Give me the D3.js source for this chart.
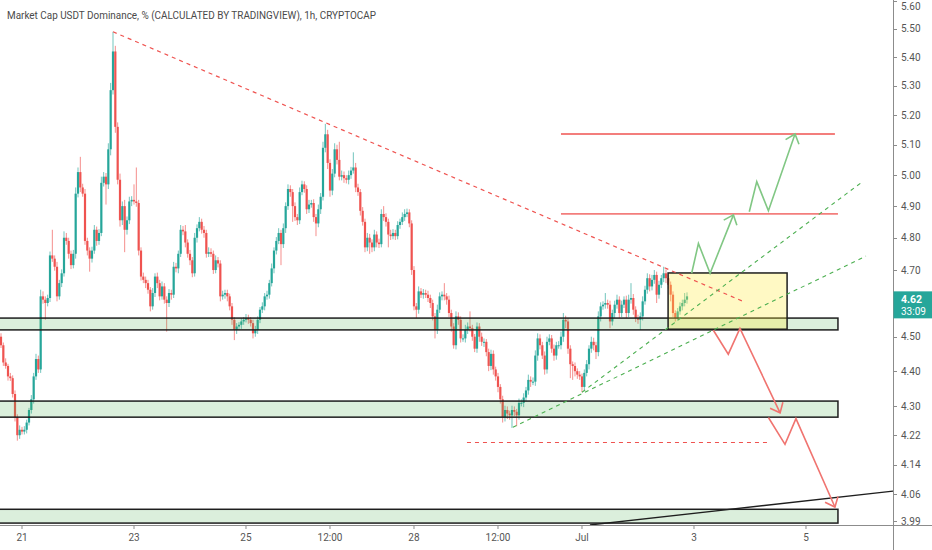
<!DOCTYPE html>
<html>
<head>
<meta charset="utf-8">
<script src="https://cdn.jsdelivr.net/npm/d3@7"></script>
<style>
  body { margin: 0; background: #fff; }
  svg { display: block; }
  text { font-family: Roboto, "Open Sans", sans-serif; }
</style>
</head>
<body>
<svg id="chart" width="932" height="550"></svg>
<script>
// hourly candles, hour 0 = 21 Jun 00:00 UTC
const firstHour = -9
const firstOpen = 4.50

const closes = [
  4.475,4.425,4.415,4.385,4.38,4.335,4.27,4.22,4.235,4.23,
  4.235,4.255,4.29,4.32,4.385,4.435,4.405,4.62,4.61,4.60,
  4.615,4.745,4.735,4.71,4.62,4.66,4.69,4.80,4.79,4.75,
  4.715,4.75,4.94,5.01,4.96,4.94,4.79,4.76,4.735,4.76,
  4.825,4.79,4.815,4.975,4.995,4.97,5.085,5.285,5.42,5.16,
  4.985,4.855,4.90,4.825,4.855,4.915,4.92,4.915,4.91,4.76,
  4.68,4.67,4.66,4.64,4.59,4.63,4.68,4.66,4.62,4.65,
  4.61,4.60,4.63,4.625,4.71,4.705,4.75,4.825,4.82,4.785,
  4.75,4.73,4.69,4.80,4.83,4.85,4.825,4.815,4.75,4.755,
  4.75,4.70,4.73,4.72,4.62,4.625,4.63,4.62,4.59,4.55,
  4.52,4.53,4.535,4.545,4.55,4.555,4.55,4.54,4.51,4.52,
  4.55,4.58,4.59,4.62,4.625,4.66,4.705,4.76,4.79,4.815,
  4.78,4.83,4.90,4.955,4.945,4.90,4.865,4.855,4.945,4.97,
  4.955,4.89,4.905,4.91,4.865,4.845,4.89,4.93,5.09,5.135,
  5.04,4.95,5.005,5.085,5.05,4.995,5.00,4.99,4.985,5.00,
  5.015,5.025,4.96,4.945,4.885,4.85,4.77,4.80,4.785,4.77,
  4.81,4.785,4.78,4.875,4.865,4.85,4.81,4.805,4.815,4.805,
  4.84,4.85,4.865,4.875,4.88,4.845,4.70,4.59,4.58,4.635,
  4.625,4.63,4.625,4.615,4.60,4.56,4.52,4.58,4.62,4.625,
  4.62,4.61,4.57,4.53,4.475,4.56,4.55,4.495,4.495,4.52,
  4.53,4.525,4.50,4.465,4.53,4.50,4.485,4.485,4.455,4.415,
  4.45,4.405,4.385,4.355,4.32,4.27,4.29,4.28,4.275,4.29,
  4.285,4.275,4.31,4.31,4.325,4.345,4.375,4.37,4.37,4.445,
  4.495,4.475,4.445,4.405,4.485,4.495,4.465,4.445,4.475,4.475,
  4.50,4.55,4.545,4.465,4.42,4.415,4.40,4.39,4.385,4.355,
  4.395,4.42,4.465,4.485,4.475,4.455,4.56,4.59,4.595,4.60,
  4.595,4.545,4.57,4.595,4.61,4.57,4.595,4.61,4.57,4.61,
  4.615,4.58,4.555,4.55,4.56,4.605,4.64,4.675,4.65,4.67,
  4.685,4.625,4.655,4.675,4.69,4.675,4.655,4.625,4.57,4.555,
  4.575,4.59,4.60,4.61,4.62
]

// wick length above the body top / below the body bottom
const wickUp = [
  .01,.008,.012,.006,.01,.008,.01,.008,.012,.008,
  .01,.008,.006,.012,.01,.015,.01,.02,.015,.01,
  .01,.012,.08,.01,.015,.01,.012,.02,.015,.01,
  .01,.012,.02,.015,.05,.012,.015,.01,.01,.012,
  .015,.01,.012,.02,.015,.012,.02,.025,.07,.02,
  .015,.02,.015,.02,.012,.015,.012,.05,.11,.01,
  .01,.012,.01,.01,.008,.015,.01,.012,.01,.015,
  .01,.01,.012,.01,.015,.012,.01,.015,.012,.02,
  .01,.012,.01,.015,.012,.015,.01,.012,.01,.015,
  .012,.01,.015,.01,.01,.012,.01,.01,.008,.01,
  .008,.01,.008,.01,.008,.012,.01,.008,.01,.012,
  .01,.008,.012,.01,.012,.01,.015,.01,.012,.015,
  .01,.015,.012,.015,.012,.01,.012,.01,.015,.012,
  .01,.012,.015,.01,.012,.01,.015,.012,.02,.035,
  .015,.012,.015,.02,.015,.06,.015,.012,.01,.015,
  .012,.05,.015,.012,.01,.012,.01,.015,.012,.01,
  .015,.01,.012,.015,.025,.012,.01,.015,.012,.01,
  .012,.01,.015,.015,.012,.01,.01,.012,.01,.015,
  .01,.012,.01,.012,.01,.01,.01,.015,.012,.01,
  .035,.01,.012,.01,.01,.015,.012,.01,.012,.015,
  .012,.045,.01,.008,.012,.01,.012,.01,.008,.01,
  .012,.01,.008,.01,.008,.01,.012,.01,.008,.012,
  .01,.008,.012,.01,.012,.01,.015,.01,.012,.015,
  .015,.012,.01,.012,.015,.012,.01,.012,.01,.012,
  .015,.02,.012,.01,.01,.008,.01,.008,.01,.008,
  .01,.012,.01,.015,.012,.01,.015,.012,.01,.03,
  .01,.012,.01,.012,.015,.01,.012,.01,.012,.015,
  .045,.012,.01,.01,.012,.015,.012,.015,.012,.015,
  .015,.01,.012,.01,.02,.012,.01,.01,.01,.008,
  .01,.012,.01,.02,.012
]
const wickDn = [
  .008,.01,.008,.012,.008,.01,.012,.015,.01,.008,
  .008,.01,.008,.01,.012,.01,.01,.01,.012,.05,
  .01,.012,.01,.012,.015,.01,.012,.01,.012,.015,
  .012,.01,.015,.012,.015,.01,.012,.015,.04,.012,
  .01,.015,.012,.01,.012,.065,.015,.02,.015,.02,
  .015,.02,.015,.07,.015,.012,.015,.01,.012,.015,
  .012,.01,.015,.012,.015,.01,.012,.015,.012,.01,
  .012,.085,.012,.015,.01,.012,.015,.01,.012,.015,
  .012,.015,.012,.01,.015,.01,.012,.015,.012,.01,
  .01,.012,.01,.012,.015,.01,.012,.015,.012,.015,
  .03,.012,.01,.012,.01,.008,.012,.01,.015,.01,
  .012,.01,.01,.012,.01,.012,.01,.015,.012,.01,
  .065,.012,.015,.012,.015,.05,.012,.015,.012,.01,
  .012,.015,.012,.01,.015,.04,.012,.015,.012,.015,
  .02,.02,.015,.012,.015,.012,.012,.015,.012,.015,
  .012,.01,.015,.012,.015,.012,.015,.012,.035,.015,
  .012,.015,.012,.01,.012,.015,.04,.012,.01,.012,
  .01,.012,.01,.012,.01,.012,.015,.012,.025,.012,
  .01,.012,.01,.012,.015,.012,.025,.012,.01,.012,
  .012,.015,.012,.015,.01,.012,.015,.012,.01,.012,
  .012,.01,.012,.01,.012,.015,.012,.015,.012,.015,
  .012,.015,.012,.015,.012,.015,.012,.015,.012,.035,
  .012,.03,.012,.01,.012,.01,.012,.015,.01,.012,
  .015,.012,.01,.015,.012,.01,.012,.015,.012,.01,
  .012,.015,.02,.015,.04,.04,.015,.012,.01,.015,
  .012,.01,.015,.012,.015,.02,.012,.015,.01,.012,
  .012,.02,.012,.015,.012,.015,.012,.01,.015,.012,
  .012,.015,.012,.012,.03,.012,.01,.012,.015,.012,
  .012,.025,.012,.01,.012,.015,.012,.02,.012,.01,
  .008,.01,.012,.01,.012
]

const yTicks = [5.60, 5.50, 5.40, 5.30, 5.20, 5.10, 5.00, 4.90, 4.80, 4.70, 4.50, 4.40, 4.30, 4.22, 4.14, 4.06, 3.99]
const xTickHours = [0, 48, 96, 132, 168, 204, 240, 288, 336]
const xTickLabels = ['21', '23', '25', '12:00', '28', '12:00', 'Jul', '3', '5']

// drawings: [hour, price]
const zones = [[4.52, 4.555], [4.27, 4.315], [3.985, 4.021]]
const zoneHours = [-12, 349.7]
const targetLines = [[5.136, 231, 348.4], [4.875, 231, 349.7]]
const stopLine = [4.20, 190.7, 319.7]
const trendDown = [[39, 5.49], [309, 4.605]]
const trendUp = [
  [[210.4, 4.242], [361.7, 4.743]],
  [[240, 4.34], [360, 4.9775]]
]
const baseLine = [[243.4, 3.98], [373.3, 4.069]]
const box = { from: 276.9, to: 327.9, lo: 4.522, hi: 4.691 }
const bullPaths = [
  [[287, 4.69], [289.9, 4.782], [294.9, 4.69], [304.9, 4.872]],
  [[311.7, 4.882], [314.9, 4.979], [319.9, 4.885], [331.3, 5.136]]
]
const bearPaths = [
  [[296.3, 4.519], [302.7, 4.449], [307.7, 4.5245], [324.9, 4.282]],
  [[319.9, 4.269], [327, 4.195], [331.7, 4.266], [348.4, 4.027]]
]
const lastPrice = 4.62
const countdown = '33:09'
const title = 'Market Cap USDT Dominance, % (CALCULATED BY TRADINGVIEW), 1h, CRYPTOCAP'

const width = 932, height = 550
const plotW = 893, plotH = 525
const upColor = '#26a69a', downColor = '#ef5350'

const t0 = Date.UTC(2021, 5, 21)
const hourDate = h => new Date(t0 + h * 36e5)

const x = d3.scaleTime()
  .domain([hourDate(-9.43), hourDate(373.29)])
  .range([0, plotW])
const y = d3.scaleLog()
  .domain([3.98, 5.605])
  .range([plotH, 0])

const candles = closes.map((c, i) => {
  const o = i === 0 ? firstOpen : closes[i - 1]
  return {
    t: hourDate(firstHour + i),
    o, c,
    h: Math.max(o, c) + wickUp[i],
    l: Math.min(o, c) - wickDn[i]
  }
})

const svg = d3.select('#chart')

svg.append('defs').append('clipPath').attr('id', 'plot')
  .append('rect').attr('width', plotW).attr('height', plotH)

const plot = svg.append('g').attr('clip-path', 'url(#plot)')

// candles
const cg = plot.append('g')
cg.selectAll('line').data(candles).join('line')
  .attr('x1', d => x(d.t)).attr('x2', d => x(d.t))
  .attr('y1', d => y(d.h)).attr('y2', d => y(d.l))
  .attr('stroke', d => d.c >= d.o ? upColor : downColor)
  .attr('stroke-opacity', 0.65)
  .attr('stroke-width', 1)
cg.selectAll('rect').data(candles).join('rect')
  .attr('x', d => x(d.t) - 1.1)
  .attr('width', 2.2)
  .attr('y', d => y(Math.max(d.o, d.c)))
  .attr('height', d => Math.max(1, Math.abs(y(d.o) - y(d.c))))
  .attr('fill', d => d.c >= d.o ? upColor : downColor)

const line = d3.line().x(d => x(hourDate(d[0]))).y(d => y(d[1]))

// support zones
plot.selectAll('.zone').data(zones).join('rect')
  .attr('class', 'zone')
  .attr('x', x(hourDate(zoneHours[0])))
  .attr('width', x(hourDate(zoneHours[1])) - x(hourDate(zoneHours[0])))
  .attr('y', d => y(d[1]))
  .attr('height', d => y(d[0]) - y(d[1]))
  .attr('fill', 'rgba(76,175,80,0.2)')
  .attr('stroke', '#1e1e1e')
  .attr('stroke-width', 1.5)

// trade box
plot.append('rect')
  .attr('x', x(hourDate(box.from)))
  .attr('width', x(hourDate(box.to)) - x(hourDate(box.from)))
  .attr('y', y(box.hi))
  .attr('height', y(box.lo) - y(box.hi))
  .attr('fill', 'rgba(255,235,59,0.3)')
  .attr('stroke', '#1e1e1e')
  .attr('stroke-width', 1.5)

// target levels
plot.selectAll('.target').data(targetLines).join('line')
  .attr('class', 'target')
  .attr('x1', d => x(hourDate(d[1]))).attr('x2', d => x(hourDate(d[2])))
  .attr('y1', d => y(d[0])).attr('y2', d => y(d[0]))
  .attr('stroke', '#ef5350').attr('stroke-opacity', 0.75)
  .attr('stroke-width', 1.8)

plot.append('line')
  .attr('x1', x(hourDate(stopLine[1]))).attr('x2', x(hourDate(stopLine[2])))
  .attr('y1', y(stopLine[0])).attr('y2', y(stopLine[0]))
  .attr('stroke', '#ef5350').attr('stroke-width', 1.2)
  .attr('stroke-dasharray', '4,4')

plot.append('path').datum(trendDown)
  .attr('d', line).attr('fill', 'none')
  .attr('stroke', '#ef5350').attr('stroke-width', 1.2)
  .attr('stroke-dasharray', '4,4')

plot.selectAll('.trend-up').data(trendUp).join('path')
  .attr('class', 'trend-up')
  .attr('d', line).attr('fill', 'none')
  .attr('stroke', '#4caf50').attr('stroke-width', 1.1)
  .attr('stroke-dasharray', '4,4')

plot.append('path').datum(baseLine)
  .attr('d', line).attr('fill', 'none')
  .attr('stroke', '#1e1e1e').attr('stroke-width', 1.3)

// projected paths with arrow heads
function drawArrow(pts, color) {
  plot.append('path').datum(pts)
    .attr('d', line).attr('fill', 'none')
    .attr('stroke', color).attr('stroke-width', 1.6)
  const a = pts[pts.length - 2], b = pts[pts.length - 1]
  const ax = x(hourDate(a[0])), ay = y(a[1])
  const bx = x(hourDate(b[0])), by = y(b[1])
  const ang = Math.atan2(ay - by, ax - bx)
  const len = 11, spread = 0.7
  const p1 = [bx + len * Math.cos(ang + spread), by + len * Math.sin(ang + spread)]
  const p2 = [bx + len * Math.cos(ang - spread), by + len * Math.sin(ang - spread)]
  plot.append('path')
    .attr('d', `M${p1}L${bx},${by}L${p2}`)
    .attr('fill', 'none').attr('stroke', color).attr('stroke-width', 1.6)
}
bullPaths.forEach(p => drawArrow(p, '#81c784'))
bearPaths.forEach(p => drawArrow(p, '#f07470'))

// axes
const axisColor = '#8c8c8c', labelColor = '#555'
svg.append('line')
  .attr('x1', plotW + 0.5).attr('x2', plotW + 0.5)
  .attr('y1', 0).attr('y2', height)
  .attr('stroke', axisColor)
svg.append('line')
  .attr('x1', 0).attr('x2', width)
  .attr('y1', plotH + 0.5).attr('y2', plotH + 0.5)
  .attr('stroke', axisColor)

const ya = svg.append('g')
ya.selectAll('line').data(yTicks).join('line')
  .attr('x1', plotW).attr('x2', plotW + 4)
  .attr('y1', d => Math.round(y(d)) + 0.5).attr('y2', d => Math.round(y(d)) + 0.5)
  .attr('stroke', axisColor)
ya.selectAll('text').data(yTicks).join('text')
  .attr('x', plotW + 8).attr('y', d => Math.max(6, y(d))).attr('dy', '0.35em')
  .attr('font-size', 10).attr('fill', labelColor)
  .text(d => d.toFixed(2))

const xa = svg.append('g')
xa.selectAll('line').data(xTickHours).join('line')
  .attr('x1', d => x(hourDate(d))).attr('x2', d => x(hourDate(d)))
  .attr('y1', plotH).attr('y2', plotH + 4)
  .attr('stroke', axisColor)
xa.selectAll('text').data(xTickHours).join('text')
  .attr('x', d => x(hourDate(d))).attr('y', plotH + 16)
  .attr('text-anchor', 'middle')
  .attr('font-size', 10).attr('fill', labelColor)
  .text((d, i) => xTickLabels[i])

// last price tag
const py = y(lastPrice)
svg.append('rect')
  .attr('x', plotW + 0.5).attr('y', py - 5)
  .attr('width', width - plotW).attr('height', 27)
  .attr('fill', upColor)
svg.append('text')
  .attr('x', plotW + 8).attr('y', py + 7)
  .attr('font-size', 10.5).attr('font-weight', 'bold').attr('fill', '#fff')
  .text(lastPrice.toFixed(2))
svg.append('text')
  .attr('x', plotW + 8).attr('y', py + 19)
  .attr('font-size', 10).attr('fill', '#fff')
  .text(countdown)

// title
svg.append('text')
  .attr('x', 7).attr('y', 19)
  .attr('font-size', 11).attr('fill', '#4a4a4a')
  .attr('textLength', 369).attr('lengthAdjust', 'spacingAndGlyphs')
  .text(title)
</script>
</body>
</html>
